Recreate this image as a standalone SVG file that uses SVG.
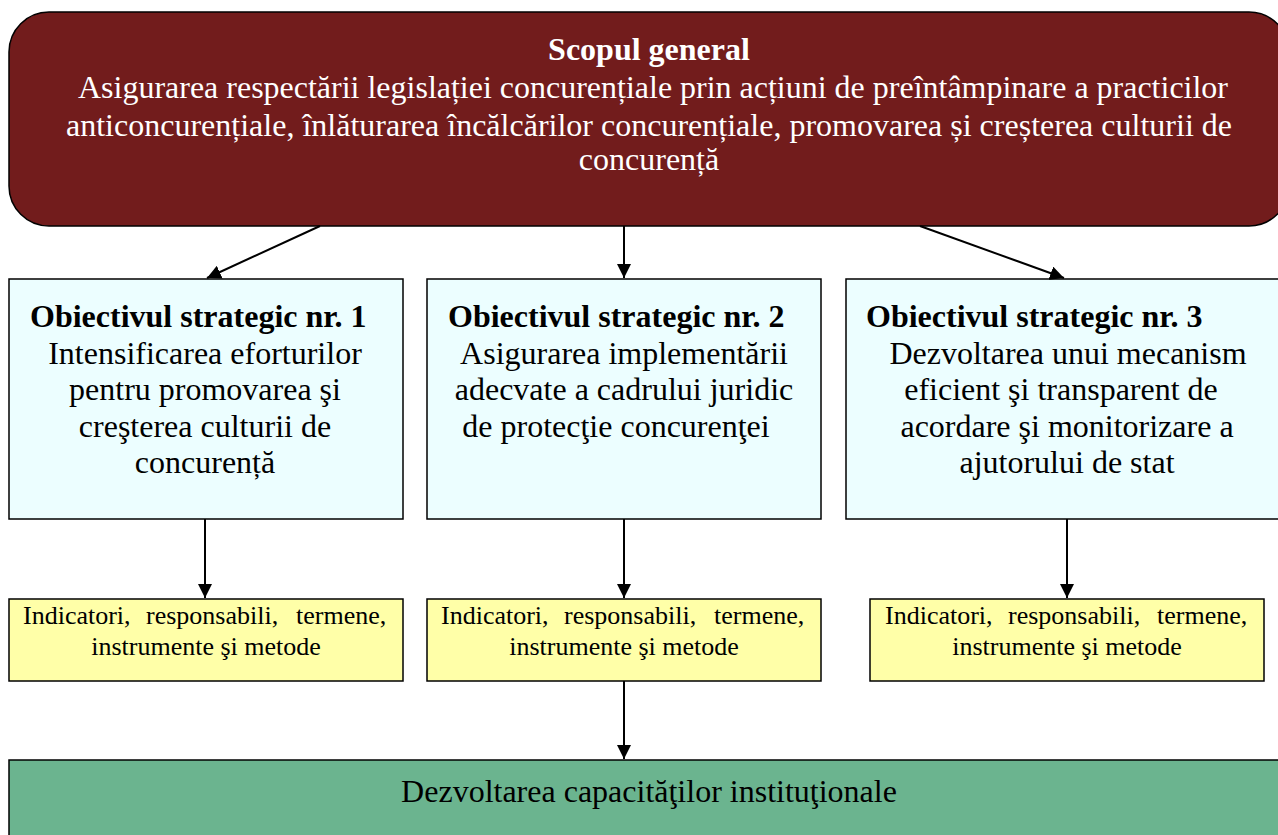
<svg xmlns="http://www.w3.org/2000/svg" width="1278" height="835" viewBox="0 0 1278 835">
<defs>
<style>
.t{font-family:"Liberation Serif","Times New Roman",serif;fill:#000;font-size:32px}
.m{text-anchor:middle}
.w{fill:#fff}
.b{font-weight:bold}
.s{font-size:26px}
.obj{fill:#ecfeff;stroke:#000;stroke-width:1.5}
.ind{fill:#ffffa8;stroke:#000;stroke-width:1.5}
.c{stroke:#000;stroke-width:2;fill:none;marker-end:url(#ah)}
</style>
<marker id="ah" viewBox="0 0 14 14" refX="14" refY="7" markerWidth="14" markerHeight="14" markerUnits="userSpaceOnUse" orient="auto"><path d="M0,0 L14,7 L0,14 z" fill="#000"/></marker>
</defs>
<rect width="1278" height="835" fill="#fff"/>
<g id="scop">
<rect x="9" y="12" width="1280" height="214" rx="40" ry="40" fill="#721c1c" stroke="#000" stroke-width="1.5"/>
<text class="t w b m" x="649" y="60">Scopul general</text>
<text class="t w m" x="653" y="98" textLength="1150" lengthAdjust="spacingAndGlyphs">Asigurarea respectării legislației concurențiale prin acțiuni de preîntâmpinare a practicilor</text>
<text class="t w m" x="649" y="136" textLength="1166" lengthAdjust="spacingAndGlyphs">anticoncurențiale, înlăturarea încălcărilor concurențiale, promovarea și creșterea culturii de</text>
<text class="t w m" x="649" y="170">concurență</text>
</g>
<g id="obj1">
<rect class="obj" x="9" y="279" width="394" height="240"/>
<text class="t b" x="30" y="327">Obiectivul strategic nr. 1</text>
<text class="t m" x="205" y="364">Intensificarea eforturilor</text>
<text class="t m" x="205" y="400">pentru promovarea şi</text>
<text class="t m" x="205" y="437">creşterea culturii de</text>
<text class="t m" x="205" y="473">concurență</text>
</g>
<g id="obj2">
<rect class="obj" x="427" y="279" width="394" height="240"/>
<text class="t b" x="448" y="327">Obiectivul strategic nr. 2</text>
<text class="t m" x="624" y="364">Asigurarea implementării</text>
<text class="t m" x="624" y="400">adecvate a cadrului juridic</text>
<text class="t m" x="616" y="437">de protecţie concurenţei</text>
</g>
<g id="obj3">
<rect class="obj" x="846" y="279" width="440" height="240"/>
<text class="t b" x="866" y="327">Obiectivul strategic nr. 3</text>
<text class="t m" x="1068" y="364">Dezvoltarea unui mecanism</text>
<text class="t m" x="1061" y="400">eficient şi transparent de</text>
<text class="t m" x="1067" y="437">acordare şi monitorizare a</text>
<text class="t m" x="1067" y="473">ajutorului de stat</text>
</g>
<g id="ind1">
<rect class="ind" x="9" y="599" width="394" height="82"/>
<text class="t s" y="624"><tspan x="23">Indicatori,</tspan><tspan x="146">responsabili,</tspan><tspan x="296">termene,</tspan></text>
<text class="t s m" x="206" y="655">instrumente şi metode</text>
</g>
<g id="ind2">
<rect class="ind" x="427" y="599" width="394" height="82"/>
<text class="t s" y="624"><tspan x="441">Indicatori,</tspan><tspan x="564">responsabili,</tspan><tspan x="714">termene,</tspan></text>
<text class="t s m" x="624" y="655">instrumente şi metode</text>
</g>
<g id="ind3">
<rect class="ind" x="870" y="599" width="394" height="82"/>
<text class="t s" y="624"><tspan x="885">Indicatori,</tspan><tspan x="1008">responsabili,</tspan><tspan x="1157">termene,</tspan></text>
<text class="t s m" x="1067" y="655">instrumente şi metode</text>
</g>
<g id="cap">
<rect x="9" y="760" width="1290" height="100" fill="#6bb48f" stroke="#000" stroke-width="1.5"/>
<text class="t m" x="649" y="802">Dezvoltarea capacităţilor instituţionale</text>
</g>
<g id="connectors">
<line class="c" x1="320" y1="226" x2="207" y2="278"/>
<line class="c" x1="624" y1="226" x2="624" y2="278"/>
<line class="c" x1="920" y1="226" x2="1064" y2="278"/>
<line class="c" x1="205" y1="519" x2="205" y2="598"/>
<line class="c" x1="624" y1="519" x2="624" y2="598"/>
<line class="c" x1="1067" y1="519" x2="1067" y2="598"/>
<line class="c" x1="624" y1="681" x2="624" y2="759"/>
</g>
</svg>
